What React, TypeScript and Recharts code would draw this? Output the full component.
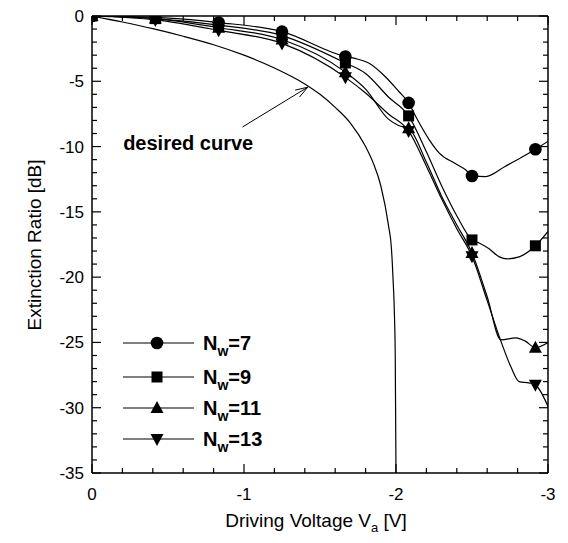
import React from 'react';
import { ComposedChart, Line, Scatter, XAxis, YAxis, ReferenceLine, ReferenceDot } from 'recharts';

const FONT = '"Liberation Sans", Arial, Helvetica, sans-serif';

// ---- axis ticks ----
const xMajorTicks = [0, -1, -2, -3];
const xAllTicks = [0, -0.2, -0.4, -0.6, -0.8, -1, -1.2, -1.4, -1.6, -1.8, -2, -2.2, -2.4, -2.6, -2.8, -3];
const yMajorTicks = [0, -5, -10, -15, -20, -25, -30, -35];
const yAllTicks = [0, -1, -2, -3, -4, -5, -6, -7, -8, -9, -10, -11, -12, -13, -14, -15, -16, -17, -18, -19, -20,
  -21, -22, -23, -24, -25, -26, -27, -28, -29, -30, -31, -32, -33, -34, -35];

// ---- marker positions (driving voltage, V) and values (dB) ----
const markerV = [0, -0.417, -0.833, -1.25, -1.667, -2.083, -2.5, -2.917];
const nw7Marks = [0, -0.1, -0.5, -1.2, -3.1, -6.65, -12.25, -10.2];
const nw9Marks = [0, -0.2, -0.7, -1.5, -3.6, -7.65, -17.15, -17.6];
const nw11Marks = [0, -0.2, -0.9, -1.8, -4.3, -8.6, -18.15, -25.4];
const nw13Marks = [0, -0.3, -1.1, -2.1, -4.7, -8.8, -18.4, -28.25];

// ---- traced curves ----
const nw7LineV = [0, -0.417, -0.833, -1.25, -1.667, -1.73, -1.82, -1.93, -2.02, -2.083, -2.13, -2.22, -2.285, -2.39, -2.46, -2.5, -2.59, -2.72, -2.83, -2.917, -3.0];
const nw7LineDb = [0, -0.1, -0.5, -1.2, -3.1, -3.25, -3.6, -4.65, -5.8, -6.65, -7.7, -9.5, -10.5, -11.3, -11.8, -12.25, -12.3, -11.5, -10.8, -10.2, -9.6];

const nw9LineV = [0, -0.417, -0.833, -1.25, -1.667, -1.8, -1.95, -2.083, -2.2, -2.3, -2.4, -2.5, -2.55, -2.61, -2.68, -2.73, -2.81, -2.917, -3.0];
const nw9LineDb = [0, -0.2, -0.7, -1.5, -3.6, -4.4, -6.2, -7.65, -10.4, -13.0, -15.3, -17.15, -17.4, -17.8, -18.45, -18.6, -18.45, -17.6, -16.5];

const nw11LineV = [0, -0.417, -0.833, -1.25, -1.667, -1.8, -1.95, -2.02, -2.083, -2.2, -2.3, -2.4, -2.5, -2.6, -2.69, -2.79, -2.85, -2.917, -3.0];
const nw11LineDb = [0, -0.2, -0.9, -1.8, -4.3, -5.6, -7.9, -8.4, -8.6, -11.2, -13.8, -16.0, -18.15, -21.5, -24.8, -24.65, -24.9, -25.4, -25.0];

const nw13LineV = [0, -0.417, -0.833, -1.25, -1.667, -1.8, -1.95, -2.083, -2.2, -2.3, -2.4, -2.5, -2.6, -2.69, -2.755, -2.81, -2.875, -2.917, -3.0];
const nw13LineDb = [0, -0.3, -1.1, -2.1, -4.7, -5.9, -7.5, -8.8, -11.5, -14.0, -16.3, -18.4, -21.8, -24.9, -26.85, -28.0, -28.1, -28.25, -29.9];

const desiredV = [0, -0.2, -0.4, -0.6, -0.8, -1.0, -1.2, -1.4, -1.5, -1.6, -1.7, -1.8, -1.85, -1.9, -1.95, -1.97, -1.98, -1.99, -1.995, -2.0];
const desiredDb = [0, -0.46, -0.97, -1.55, -2.2, -3.0, -3.98, -5.2, -6.0, -7.0, -8.2, -10.0, -11.25, -13.0, -16.0, -17.8, -20.0, -23.0, -26.0, -35];

const seriesNames = ['7', '9', '11', '13'];
const seriesShapes = ['circle', 'square', 'triUp', 'triDown'];

const zip = (xs: number[], ys: number[]) => xs.map((v, i) => ({ v, db: ys[i] }));

const lineSets = [zip(nw7LineV, nw7LineDb), zip(nw9LineV, nw9LineDb), zip(nw11LineV, nw11LineDb), zip(nw13LineV, nw13LineDb)];
const markSets = [zip(markerV, nw7Marks), zip(markerV, nw9Marks), zip(markerV, nw11Marks), zip(markerV, nw13Marks)];
const desiredData = zip(desiredV, desiredDb);

function MarkerGlyph({ kind, cx, cy }: { kind: string; cx: number; cy: number }) {
  if (cx == null || cy == null || isNaN(cx) || isNaN(cy)) return null;
  if (kind === 'circle') return <circle cx={cx} cy={cy} r={6.3} fill="#000" />;
  if (kind === 'square') return <rect x={cx - 5.5} y={cy - 5.5} width={11} height={11} fill="#000" />;
  if (kind === 'triUp')
    return <polygon points={`${cx},${cy - 7} ${cx - 6.5},${cy + 5} ${cx + 6.5},${cy + 5}`} fill="#000" />;
  return <polygon points={`${cx},${cy + 7} ${cx - 6.5},${cy - 5} ${cx + 6.5},${cy - 5}`} fill="#000" />;
}

const isMajor = (v: number, step: number) => Math.abs(v / step - Math.round(v / step)) < 1e-6;
const fmt = (v: number) => (Math.abs(v) < 1e-9 ? '0' : String(v));

const BottomTick = (p: any) => {
  const v = p.payload.value;
  const major = isMajor(v, 1);
  return (
    <g>
      <line x1={p.x} y1={p.y} x2={p.x} y2={p.y - (major ? 9 : 5)} stroke="#000" strokeWidth={1.2} />
      {major && xMajorTicks.includes(v) ? (
        <text x={p.x} y={p.y + 27} textAnchor="middle" fontSize={17} fontFamily={FONT} fill="#000">{fmt(v)}</text>
      ) : null}
    </g>
  );
};
const TopTick = (p: any) => {
  const major = isMajor(p.payload.value, 1);
  return <line x1={p.x} y1={p.y} x2={p.x} y2={p.y + (major ? 9 : 5)} stroke="#000" strokeWidth={1.2} />;
};
const LeftTick = (p: any) => {
  const v = p.payload.value;
  const major = isMajor(v, 5);
  return (
    <g>
      <line x1={p.x} y1={p.y} x2={p.x + (major ? 9 : 5)} y2={p.y} stroke="#000" strokeWidth={1.2} />
      {major && yMajorTicks.includes(v) ? (
        <text x={p.x - 8} y={p.y + 6} textAnchor="end" fontSize={17} fontFamily={FONT} fill="#000">{fmt(v)}</text>
      ) : null}
    </g>
  );
};
const RightTick = (p: any) => {
  const major = isMajor(p.payload.value, 5);
  return <line x1={p.x} y1={p.y} x2={p.x - (major ? 9 : 5)} y2={p.y} stroke="#000" strokeWidth={1.2} />;
};

const ArrowShape = (p: any) => {
  const { x1, y1, x2, y2 } = p;
  if ([x1, y1, x2, y2].some((n) => n == null || isNaN(n))) return null;
  const ang = Math.atan2(y2 - y1, x2 - x1);
  const len = 13;
  const spread = 0.32;
  const ax = x2 - len * Math.cos(ang - spread);
  const ay = y2 - len * Math.sin(ang - spread);
  const bx = x2 - len * Math.cos(ang + spread);
  const by = y2 - len * Math.sin(ang + spread);
  return (
    <g>
      <line x1={x1} y1={y1} x2={x2} y2={y2} stroke="#000" strokeWidth={1} />
      <line x1={x2} y1={y2} x2={ax} y2={ay} stroke="#000" strokeWidth={1} />
      <line x1={x2} y1={y2} x2={bx} y2={by} stroke="#000" strokeWidth={1} />
    </g>
  );
};

const DesiredText = (p: any) => (
  <text x={p.cx} y={p.cy} fontSize={20} fontWeight="bold" fontFamily={FONT} fill="#000">desired curve</text>
);

const YTitle = () => (
  <text x={0} y={0} transform="translate(41 245) rotate(-90)" textAnchor="middle" fontSize={19} fontFamily={FONT} fill="#000">
    Extinction Ratio [dB]
  </text>
);
const XTitle = () => (
  <text x={316} y={527} textAnchor="middle" fontSize={19} fontFamily={FONT} fill="#000">
    Driving Voltage V<tspan fontSize={13} dy={5}>a</tspan><tspan dy={-5}> [V]</tspan>
  </text>
);

const legendRowsY = [343, 377, 408, 439];

function LegendOverlay() {
  return (
    <svg width={568} height={543} style={{ position: 'absolute', left: 0, top: 0, pointerEvents: 'none' }}>
      {seriesNames.map((name, i) => {
        const y = legendRowsY[i];
        return (
          <g key={name}>
            <line x1={123} y1={y} x2={194} y2={y} stroke="#000" strokeWidth={1.2} />
            <MarkerGlyph kind={seriesShapes[i]} cx={157} cy={y} />
            <text x={203} y={y + 7} fontSize={20} fontWeight="bold" fontFamily={FONT} fill="#000">
              N<tspan fontSize={14} dy={6}>w</tspan><tspan dy={-6}>={name}</tspan>
            </text>
          </g>
        );
      })}
    </svg>
  );
}

export default function App() {
  return (
    <div style={{ position: 'absolute', left: 0, top: 0, width: 568, height: 543, background: '#fff' }}>
      <ComposedChart width={568} height={543} margin={{ top: 0, right: 0, bottom: 0, left: 0 }}>
        <XAxis xAxisId="b" dataKey="v" type="number" orientation="bottom" domain={[-3, 0]} reversed
          ticks={xAllTicks} interval={0} tickSize={0} tickMargin={0} tickLine={false} tick={<BottomTick />}
          height={70} stroke="#000" axisLine={{ stroke: '#000', strokeWidth: 1.5 }} allowDataOverflow
          label={<XTitle />} />
        <XAxis xAxisId="t" dataKey="v" type="number" orientation="top" domain={[-3, 0]} reversed
          ticks={xAllTicks} interval={0} tickSize={0} tickMargin={0} tickLine={false} tick={<TopTick />}
          height={16} axisLine={{ stroke: '#000', strokeWidth: 1.5 }} allowDataOverflow />
        <YAxis yAxisId="l" dataKey="db" type="number" orientation="left" domain={[-35, 0]}
          ticks={yAllTicks} interval={0} tickSize={0} tickMargin={0} tickLine={false} tick={<LeftTick />}
          width={92} axisLine={{ stroke: '#000', strokeWidth: 1.5 }} allowDataOverflow label={<YTitle />} />
        <YAxis yAxisId="r" dataKey="db" type="number" orientation="right" domain={[-35, 0]}
          ticks={yAllTicks} interval={0} tickSize={0} tickMargin={0} tickLine={false} tick={<RightTick />}
          width={20} axisLine={{ stroke: '#000', strokeWidth: 1.5 }} allowDataOverflow />

        <Line xAxisId="b" yAxisId="l" data={desiredData} dataKey="db" type="monotone" stroke="#000"
          strokeWidth={1.2} dot={false} isAnimationActive={false} />
        {lineSets.map((d, i) => (
          <Line key={'l' + i} xAxisId="b" yAxisId="l" data={d} dataKey="db" type="monotone" stroke="#000"
            strokeWidth={1.2} dot={false} isAnimationActive={false} />
        ))}
        {markSets.map((d, i) => (
          <Scatter key={'s' + i} xAxisId="b" yAxisId="l" data={d} dataKey="db" isAnimationActive={false}
            shape={(p: any) => <MarkerGlyph kind={seriesShapes[i]} cx={p.cx} cy={p.cy} />} />
        ))}

        <ReferenceLine xAxisId="b" yAxisId="l" segment={[{ x: -0.99, y: -8.5 }, { x: -1.42, y: -5.45 }]}
          shape={ArrowShape} ifOverflow="visible" />
        <ReferenceDot xAxisId="b" yAxisId="l" x={-0.205} y={-10.25} r={0} shape={DesiredText} ifOverflow="visible" />
      </ComposedChart>
      <LegendOverlay />
    </div>
  );
}
